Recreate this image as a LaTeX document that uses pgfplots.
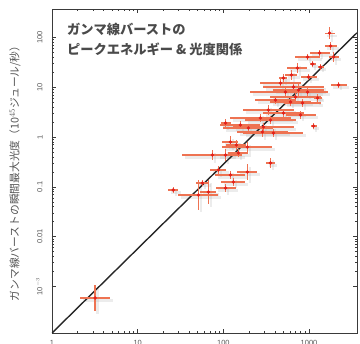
\documentclass[border=0pt]{standalone}
\usepackage{pgfplots}
\pgfplotsset{compat=1.18}
\usepackage{pgfplotstable}
\usepackage{fontspec}
\setmainfont{Liberation Sans}
\newfontfamily\jp{Noto Sans CJK JP}
\definecolor{axc}{HTML}{3A3A3A}
\definecolor{tlc}{HTML}{555555}
\definecolor{errc}{HTML}{EE7352}
\definecolor{ptc}{HTML}{E3201B}
\definecolor{linec}{HTML}{262626}
\definecolor{ttc}{HTML}{4A4A4A}

\pgfplotstableread{
x y xp xm yp ym
1738 122 .144 .126 .320 .242
1783 67.2 .175 .149 .203 .169
1327 48.6 .309 .236 .149 .130
960 40.4 .381 .276 .149 .130
1935 40.4 .144 .126 .259 .206
1099 29.2 .084 .078 .149 .130
733 24.3 .309 .236 .259 .206
1364 25.5 .084 .078 .149 .130
624 17.6 .175 .149 .259 .206
987 16.0 .240 .194 .149 .130
503 15.3 .114 .102 .203 .169
464 12.1 .714 .417 .203 .169
2213 11.1 .240 .194 .149 .130
659 10.1 1.244 .554 .259 .206
754 8.79 .961 .490 .320 .242
960 8.01 .714 .417 .203 .169
531 8.01 1.566 .610 .203 .169
406 5.53 .714 .417 .203 .169
695 6.36 .961 .490 .203 .169
1257 6.07 .114 .102 .203 .169
608 5.05 .714 .417 .203 .169
839 4.82 .624 .384 .203 .169
336 3.48 .961 .490 .259 .206
503 3.03 .714 .417 .203 .169
271 2.41 1.244 .554 .203 .169
355 2.19 .961 .490 .203 .169
796 2.77 .497 .332 .203 .169
106 1.91 .144 .126 .203 .169
158 1.74 .714 .417 .203 .169
294 1.59 1.244 .554 .203 .169
196 1.52 .961 .490 .203 .169
1129 1.66 .084 .078 .149 .130
286 1.26 .961 .490 .259 .206
384 1.20 1.244 .554 .203 .169
121 0.794 .240 .194 .320 .242
191 0.630 .961 .490 .259 .206
142 0.691 .309 .236 .259 .206
74.3 0.435 1.244 .554 .259 .206
106 0.435 .240 .194 .320 .242
150 0.477 .309 .236 .203 .169
355 0.301 .114 .102 .259 .206
191 0.198 .309 .236 .448 .309
121 0.173 .497 .332 .203 .169
87.4 0.217 .240 .194 .203 .169
131 0.125 .381 .276 .203 .169
56.8 0.119 .175 .149 .149 .130
106 0.0946 .309 .236 .203 .169
26.0 0.0863 .144 .126 .149 .130
51.0 0.0685 .714 .417 1.0 .5
66.8 0.0786 .240 .194 .742 .426
3.18 0.000585 .497 .332 .824 .452
}\grbdata

\begin{document}
\begin{tikzpicture}
\begin{axis}[
  scale only axis,
  width=305bp, height=324bp,
  xmode=log, ymode=log,
  xmin=1, xmax=3630, ymin=1.16e-4, ymax=372,
  axis line style={color=axc, line width=0.9pt},
  tick align=inside,
  tick style={color=axc, line width=0.6pt},
  major tick length=4bp, minor tick length=2.5bp,
  xtick={1,10,100,1000},
  xticklabels={1,10,100,1000},
  ytick={0.001,0.01,0.1,1,10,100},
  yticklabels={10$^{-3}$,0.01,0.1,1,10,100},
  /pgf/number format/assume math mode=true,
  ticklabel style={font=\fontsize{7.5}{8}\selectfont, text=tlc},
  yticklabel style={rotate=90, anchor=south},
  yticklabel shift=6pt,
  xticklabel shift=4pt,
  ylabel={\jp ガンマ線バーストの瞬間最大光度（10$^{45}$ジュール/秒）},
  ylabel style={at={(axis description cs:-0.121,0.5)}, anchor=center, rotate=0, font=\fontsize{10.8}{12}\selectfont, text=tlc},
  clip=true,
]
% shadow
\addplot[draw=none, mark=none,
  error bars/.cd, x dir=both, y dir=both, x explicit relative, y explicit relative,
  error mark=none, error bar style={color=gray!60, opacity=0.25, line width=2.2pt, xshift=2.5bp, yshift=-2.5bp}]
  table[x=x, y=y, x error plus=xp, x error minus=xm, y error plus=yp, y error minus=ym] {\grbdata};
% line
\addplot[color=linec, line width=1.4pt, no marks] coordinates {(1,1.16e-4) (3630,124)};
% data
\addplot[only marks, mark=*, mark size=1.5pt, color=ptc,
  error bars/.cd, x dir=both, y dir=both, x explicit relative, y explicit relative,
  error mark=none, error bar style={color=errc, line width=1.2pt}]
  table[x=x, y=y, x error plus=xp, x error minus=xm, y error plus=yp, y error minus=ym] {\grbdata};
\node[anchor=north west, align=left, font=\jp\bfseries\fontsize{13.3}{20}\selectfont, text=ttc, inner sep=0pt]
  at (rel axis cs:0.049,0.958) {ガンマ線バーストの\\ピークエネルギー \& 光度関係};
\end{axis}
\pgfresetboundingbox
\path ([shift={(-52bp,-11bp)}]current axis.south west) rectangle ([shift={(3bp,9bp)}]current axis.north east);
\end{tikzpicture}
\end{document}
